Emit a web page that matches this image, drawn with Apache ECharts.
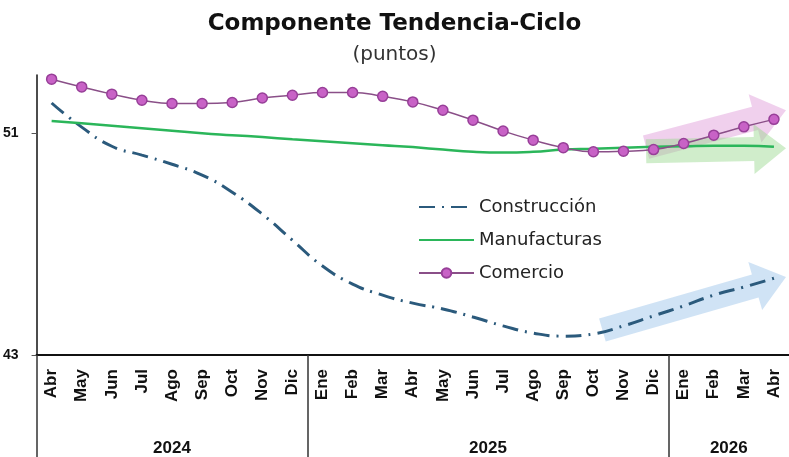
<!DOCTYPE html>
<html>
<head>
<meta charset="utf-8">
<script src="https://cdn.jsdelivr.net/npm/echarts@6/dist/echarts.min.js"></script>
<style>
    html, body { margin: 0; padding: 0; background: #fff; }
    #chart { width: 789px; height: 457px; }
</style>
</head>
<body>
<div id="chart"></div>
<script>
    // datos
    const months = ['Abr', 'May', 'Jun', 'Jul', 'Ago', 'Sep', 'Oct', 'Nov', 'Dic',
        'Ene', 'Feb', 'Mar', 'Abr', 'May', 'Jun', 'Jul', 'Ago', 'Sep', 'Oct', 'Nov', 'Dic',
        'Ene', 'Feb', 'Mar', 'Abr'];
    const construccion = [52.09, 51.22, 50.53, 50.21, 49.88, 49.49, 48.87, 48.08, 47.14,
        46.21, 45.56, 45.16, 44.87, 44.66, 44.37, 44.05, 43.79, 43.68, 43.76, 44.05, 44.41,
        44.77, 45.16, 45.45, 45.77];
    const manufacturas = [51.44, 51.36, 51.27, 51.18, 51.09, 51.00, 50.93, 50.86, 50.78,
        50.71, 50.64, 50.57, 50.50, 50.41, 50.33, 50.30, 50.33, 50.41, 50.44, 50.48, 50.51,
        50.53, 50.55, 50.55, 50.51];
    const comercio = [52.95, 52.67, 52.41, 52.19, 52.07, 52.07, 52.11, 52.27, 52.37,
        52.47, 52.47, 52.33, 52.13, 51.83, 51.47, 51.08, 50.75, 50.48, 50.33, 50.35, 50.41,
        50.63, 50.93, 51.23, 51.50];
    const yAxisTicks = [43, 51];

    // grupos de años (índice de inicio de cada año)
    const years = ['2024', '2025', '2026'];
    const yearBreaks = [0, 9, 21, 25];

    // flechas de tendencia: [mes inicio, valor inicio, mes fin, valor fin]
    const arrowFrom = [20, 20, 18];
    const arrowFromVal = [50.50, 50.35, 43.90];
    const arrowTo = [24, 24, 24];
    const arrowToVal = [51.83, 50.46, 45.81];

    const arrowColors = ['rgba(222,150,215,0.45)', 'rgba(150,215,140,0.45)', 'rgba(150,192,232,0.45)'];
    const arrowShift = [-0.25, -0.25, 0.3];

    const yearMid = years.map((y, i) => (yearBreaks[i] + yearBreaks[i + 1]) / 2);

    const chart = echarts.init(document.getElementById('chart'));

    function renderArrow(params, api) {
        const i = params.dataIndex;
        const band = api.size([1, 0])[0];
        const p0 = api.coord([api.value(0), api.value(1)]);
        const p1 = api.coord([api.value(2), api.value(3)]);
        p0[0] += band * arrowShift[i];
        p1[0] += band * 0.4;
        const dx = p1[0] - p0[0], dy = p1[1] - p0[1];
        const len = Math.sqrt(dx * dx + dy * dy);
        const ux = dx / len, uy = dy / len;
        const nx = -uy, ny = ux;
        const w = 12, h = 25, L = 32;
        const bx = p1[0] - ux * L, by = p1[1] - uy * L;
        const pts = [
            [p0[0] + nx * w, p0[1] + ny * w],
            [bx + nx * w, by + ny * w],
            [bx + nx * h, by + ny * h],
            [p1[0], p1[1]],
            [bx - nx * h, by - ny * h],
            [bx - nx * w, by - ny * w],
            [p0[0] - nx * w, p0[1] - ny * w]
        ];
        return {
            type: 'polygon',
            shape: { points: pts },
            style: { fill: arrowColors[i] }
        };
    }

    const option = {
        animation: false,
        title: {
            text: 'Componente Tendencia-Ciclo',
            subtext: '(puntos)',
            left: 'center',
            top: 8,
            itemGap: 9,
            textStyle: { fontFamily: 'DejaVu Sans', fontSize: 23, fontWeight: 'bold', color: '#111' },
            subtextStyle: { fontFamily: 'DejaVu Sans', fontSize: 20, color: '#333' }
        },
        legend: {
            data: [
                { name: 'Construcción', itemStyle: { opacity: 0 } },
                { name: 'Manufacturas', itemStyle: { opacity: 0 } },
                { name: 'Comercio' }
            ],
            orient: 'vertical',
            left: 413,
            top: 193,
            itemWidth: 55,
            itemHeight: 12,
            itemGap: 15,
            textStyle: { fontFamily: 'DejaVu Sans', fontSize: 18, color: '#222' }
        },
        grid: {
            left: 30,
            right: 0,
            top: 75,
            bottom: 102
        },
        xAxis: [{
            type: 'category',
            data: months,
            boundaryGap: true,
            axisLine: { lineStyle: { color: '#111', width: 2 } },
            axisTick: { show: false },
            axisLabel: {
                interval: 0,
                rotate: 90,
                margin: 14,
                fontFamily: 'Liberation Sans',
                fontSize: 17,
                fontWeight: 'bold',
                color: '#111'
            }
        }, {
            type: 'value',
            position: 'bottom',
            min: 0,
            max: 25,
            axisLine: { show: false },
            splitLine: { show: false },
            axisTick: {
                customValues: yearBreaks.slice(0, 3),
                length: 102,
                lineStyle: { color: '#333', width: 1.5 }
            },
            axisLabel: {
                customValues: yearMid,
                formatter: v => years[yearMid.indexOf(v)],
                margin: 85,
                fontFamily: 'Liberation Sans',
                fontSize: 17,
                fontWeight: 'bold',
                color: '#111'
            }
        }],
        yAxis: {
            type: 'value',
            min: 43,
            max: 53.1,
            splitLine: { show: false },
            axisLine: { show: true, lineStyle: { color: '#111', width: 1.5 } },
            axisTick: { show: true, customValues: yAxisTicks, length: 5, lineStyle: { color: '#555' } },
            axisLabel: {
                customValues: yAxisTicks,
                margin: 18,
                fontFamily: 'Liberation Sans',
                fontSize: 14,
                fontWeight: 'bold',
                color: '#111'
            }
        },
        series: [{
            name: 'flechas',
            type: 'custom',
            renderItem: renderArrow,
            encode: { x: [0, 2], y: [1, 3] },
            z: 1,
            silent: true,
            data: arrowFrom.map((s, i) => [s, arrowFromVal[i], arrowTo[i], arrowToVal[i]])
        }, {
            name: 'Construcción',
            type: 'line',
            smooth: true,
            symbol: 'none',
            z: 3,
            itemStyle: { color: '#2b5a7c' },
            lineStyle: { color: '#2b5a7c', width: 3, type: [16, 7, 2, 7] },
            data: construccion
        }, {
            name: 'Manufacturas',
            type: 'line',
            smooth: true,
            symbol: 'none',
            z: 3,
            itemStyle: { color: '#2bb65a' },
            lineStyle: { color: '#2bb65a', width: 2.5 },
            data: manufacturas
        }, {
            name: 'Comercio',
            type: 'line',
            smooth: true,
            symbol: 'circle',
            symbolSize: 10,
            z: 4,
            itemStyle: { color: '#c862c6', borderColor: '#973f98', borderWidth: 1.5 },
            lineStyle: { color: '#8a4f88', width: 1.5 },
            data: comercio
        }]
    };

    chart.setOption(option);
</script>
</body>
</html>
